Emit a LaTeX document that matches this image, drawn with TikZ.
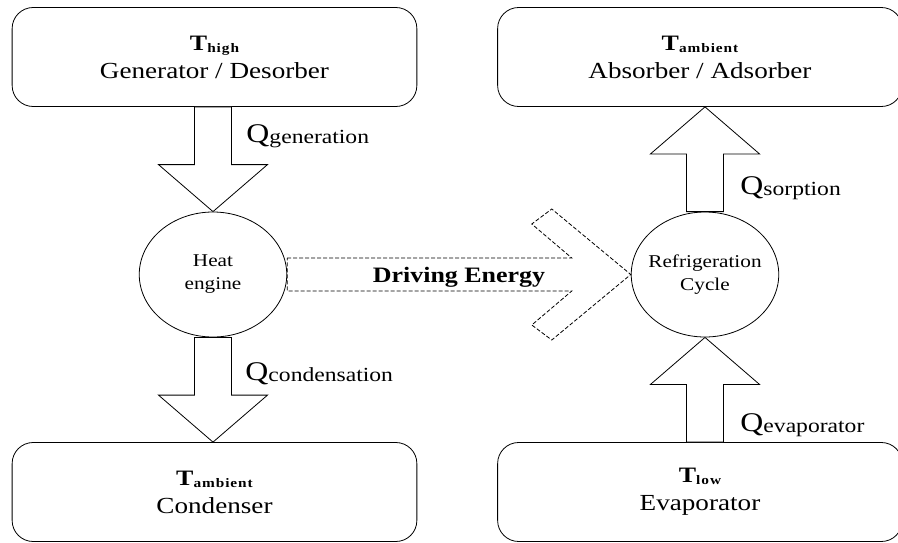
\documentclass[tikz,border=0pt]{standalone}
\usepackage{fontspec}
\setmainfont{Liberation Serif}
\usetikzlibrary{calc}

\newcommand{\tempsub}[2]{{\fontsize{22}{24}\selectfont\bfseries #1}\raisebox{-2pt}{\fontsize{13}{15}\selectfont\bfseries\addfontfeature{LetterSpace=6}#2}}
\newcommand{\heatq}[1]{{\fontsize{27}{30}\selectfont Q}\raisebox{-1pt}{\fontsize{20}{22}\selectfont #1}}
% block arrow from #1 to #2
\newcommand{\heatflow}[2]{%
	\coordinate (hb) at ($(#2)!47pt!(#1)$);
	\draw[fill=white] ($(#1)!18.5pt!90:(#2)$) -- ($(hb)!18.5pt!90:(#2)$) -- ($(hb)!54.5pt!90:(#2)$) -- (#2)
		-- ($(hb)!54.5pt!-90:(#2)$) -- ($(hb)!18.5pt!-90:(#2)$) -- ($(#1)!18.5pt!-90:(#2)$) -- cycle;}

\tikzset{
	every node/.style={xscale=1.18},
	reservoir/.style={draw, rounded corners=21pt, minimum width=343pt, minimum height=99pt, align=center, font=\fontsize{23}{28}\selectfont},
	machine/.style={draw, fill=white, circle, minimum size=125pt, inner sep=0pt, align=center, font=\fontsize{18}{23}\selectfont},
	qlabel/.style={anchor=base west, inner sep=0pt},
	drive/.style={dash pattern=on 4pt off 2pt},
}

\begin{document}
\begin{tikzpicture}[x=1pt, y=-1pt, line width=0.8pt]
	\useasboundingbox (0,0) rectangle (898,542);
	\node[reservoir] (gen) at (214.5,57) {\tempsub{T}{high}\\Generator / Desorber};
	\node[reservoir] (abs) at (700,57) {\tempsub{T}{ambient}\\Absorber / Adsorber};
	\node[reservoir] (cond) at (214.5,492) {\tempsub{T}{ambient}\\Condenser};
	\node[reservoir] (evap) at (700,492) {\tempsub{T}{low}\\Evaporator};
	\node[machine] (heat) at (213,274.5) {Heat\\engine};
	\node[machine] (ref) at (705,274.5) {Refrigeration\\Cycle};

	\coordinate (genout) at (gen.south -| heat);
	\coordinate (condin) at (cond.north -| heat);
	\coordinate (absin) at (abs.south -| ref);
	\coordinate (evapout) at (evap.north -| ref);

	\heatflow{genout}{heat.north}
	\heatflow{heat.south}{condin}
	\heatflow{ref.north}{absin}
	\heatflow{evapout}{ref.south}

	\node[qlabel] at ($(genout)+(33,36)$) {\heatq{generation}};
	\node[qlabel] at ($(heat.south)+(32,43)$) {\heatq{condensation}};
	\node[qlabel] at ($(ref.north)+(35,-17)$) {\heatq{sorption}};
	\node[qlabel] at ($(evapout)+(35,-11)$) {\heatq{evaporator}};

	% driving energy
	\draw[drive] ($(heat.east)+(0,-16.5)$) -- ($(ref.west)+(-59,-16.5)$) -- ($(ref.west)+(-99,-50.5)$)
		-- ($(ref.west)+(-79,-65.5)$) -- (ref.west) -- ($(ref.west)+(-79,65.5)$) -- ($(ref.west)+(-99,50.5)$)
		-- ($(ref.west)+(-59,16.5)$) -- ($(heat.east)+(0,16.5)$) -- cycle;
	\node[anchor=base, font=\fontsize{22}{24}\selectfont\bfseries] at ($($(heat.east)!0.5!(ref.west)$)+(0,7.5)$) {Driving Energy};
\end{tikzpicture}
\end{document}
